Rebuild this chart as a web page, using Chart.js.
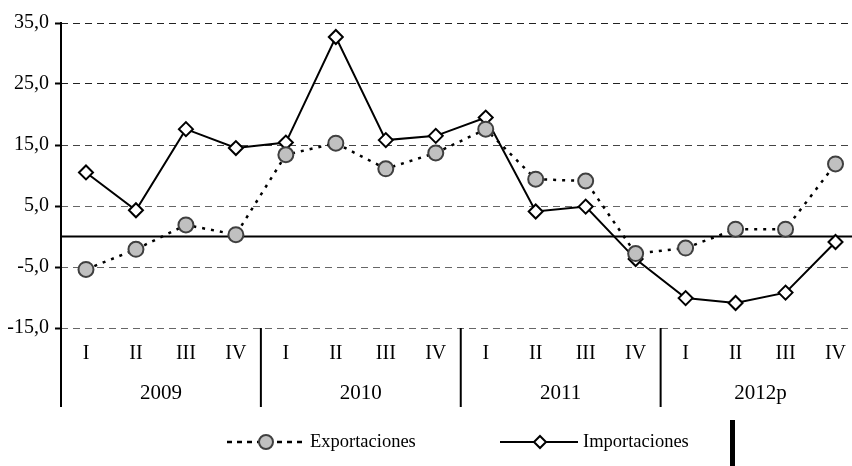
<!DOCTYPE html>
<html>
<head>
<meta charset="utf-8">
<script src="https://cdn.jsdelivr.net/npm/chart.js@4"></script>
<style>
    html, body { margin: 0; padding: 0; background: #fff; overflow: hidden; }
    canvas { display: block; }
</style>
</head>
<body>
<canvas id="chart" width="870" height="466"></canvas>
<script>
// data
const quarters = ["I", "II", "III", "IV", "I", "II", "III", "IV", "I", "II", "III", "IV", "I", "II", "III", "IV"];
const years = ["2009", "2010", "2011", "2012p"];
const exportaciones = [-5.4, -2.1, 1.9, 0.3, 13.4, 15.3, 11.1, 13.7, 17.6, 9.4, 9.1, -2.8, -1.9, 1.2, 1.2, 11.9];
const importaciones = [10.5, 4.3, 17.6, 14.5, 15.4, 32.7, 15.8, 16.5, 19.5, 4.1, 4.9, -3.7, -10.1, -10.9, -9.2, -0.9];
const yTicks = [-15, -5, 5, 15, 25, 35];

const serif = "'Liberation Serif', 'Times New Roman', serif";

// axis lines, zero line, year labels, separators and legend
const decorations = {
    id: 'decorations',
    beforeDatasetsDraw(chart) {
        const { ctx, chartArea, scales } = chart;
        const y0 = scales.y.getPixelForValue(0);
        ctx.save();
        ctx.strokeStyle = '#000';
        ctx.lineWidth = 2;
        ctx.beginPath();
        ctx.moveTo(chartArea.left, y0);
        ctx.lineTo(chartArea.right, y0);
        ctx.stroke();
        ctx.restore();
    },
    afterDraw(chart) {
        const { ctx, chartArea, scales } = chart;
        const x = scales.x;
        const bottomLine = 407;
        ctx.save();
        ctx.strokeStyle = '#000';
        ctx.lineWidth = 2;
        // y axis line
        ctx.beginPath();
        ctx.moveTo(chartArea.left, chartArea.top - 1);
        ctx.lineTo(chartArea.left, bottomLine);
        ctx.stroke();
        // year separators
        for (let i = 1; i < years.length; i++) {
            const sx = (x.getPixelForValue(i * 4 - 1) + x.getPixelForValue(i * 4)) / 2;
            ctx.beginPath();
            ctx.moveTo(sx, chartArea.bottom);
            ctx.lineTo(sx, bottomLine);
            ctx.stroke();
        }
        // year labels
        ctx.fillStyle = '#000';
        ctx.font = '21px ' + serif;
        ctx.textAlign = 'center';
        ctx.textBaseline = 'alphabetic';
        years.forEach((yr, i) => {
            const cx = (x.getPixelForValue(i * 4) + x.getPixelForValue(i * 4 + 3)) / 2;
            ctx.fillText(yr, cx, 399);
        });

        // legend
        const ly = 442;
        ctx.lineWidth = 2.5;
        ctx.setLineDash([5, 5]);
        ctx.beginPath();
        ctx.moveTo(227, ly);
        ctx.lineTo(305, ly);
        ctx.stroke();
        ctx.setLineDash([]);
        ctx.beginPath();
        ctx.arc(266, ly, 7, 0, Math.PI * 2);
        ctx.fillStyle = '#c0c0c0';
        ctx.fill();
        ctx.strokeStyle = '#404040';
        ctx.lineWidth = 2;
        ctx.stroke();

        ctx.strokeStyle = '#000';
        ctx.beginPath();
        ctx.moveTo(500, ly);
        ctx.lineTo(578, ly);
        ctx.stroke();
        ctx.beginPath();
        ctx.moveTo(540, ly - 6);
        ctx.lineTo(546, ly);
        ctx.lineTo(540, ly + 6);
        ctx.lineTo(534, ly);
        ctx.closePath();
        ctx.fillStyle = '#fff';
        ctx.fill();
        ctx.stroke();

        ctx.fillStyle = '#000';
        ctx.font = '18.5px ' + serif;
        ctx.textAlign = 'left';
        ctx.fillText('Exportaciones', 310, 447);
        ctx.fillText('Importaciones', 583, 447);

        // black bar at the bottom
        ctx.fillRect(730, 420, 5, 46);
        ctx.restore();
    }
};

new Chart(document.getElementById('chart'), {
    type: 'line',
    data: {
        labels: quarters,
        datasets: [
            {
                label: 'Importaciones',
                data: importaciones,
                borderColor: '#000',
                borderWidth: 2,
                pointStyle: 'rectRot',
                pointRadius: 7,
                pointBackgroundColor: '#fff',
                pointBorderColor: '#000',
                pointBorderWidth: 2,
                tension: 0,
                order: 2
            },
            {
                label: 'Exportaciones',
                data: exportaciones,
                borderColor: '#000',
                borderWidth: 2.5,
                borderDash: [3, 6],
                pointStyle: 'circle',
                pointRadius: 7.5,
                pointBackgroundColor: '#c0c0c0',
                pointBorderColor: '#404040',
                pointBorderWidth: 2,
                tension: 0,
                order: 1
            }
        ]
    },
    options: {
        responsive: false,
        animation: false,
        layout: { padding: { top: 23, right: 1, left: 0, bottom: 0 } },
        plugins: {
            legend: { display: false },
            tooltip: { enabled: false }
        },
        scales: {
            x: {
                offset: true,
                grid: { display: false, drawTicks: false },
                border: { display: false },
                ticks: {
                    color: '#000',
                    font: { family: serif, size: 20 },
                    padding: 14,
                    maxRotation: 0,
                    autoSkip: false
                },
                afterFit: (scale) => { scale.height = 138; }
            },
            y: {
                min: -15,
                max: 35,
                afterBuildTicks: (scale) => {
                    scale.ticks = yTicks.map(v => ({ value: v }));
                },
                grid: {
                    color: (c) => c.tick && c.tick.value >= 25 ? '#222' : (c.tick && c.tick.value >= 15 ? '#444' : '#666'),
                    lineWidth: 1,
                    tickLength: 6,
                    tickColor: '#000',
                    tickWidth: 2
                },
                border: { display: false, dash: [7, 5] },
                ticks: {
                    color: '#000',
                    font: { family: serif, size: 20 },
                    padding: 6,
                    callback: (v) => v.toFixed(1).replace('.', ',')
                },
                afterFit: (scale) => { scale.width = 61; }
            }
        }
    },
    plugins: [decorations]
});
</script>
</body>
</html>
